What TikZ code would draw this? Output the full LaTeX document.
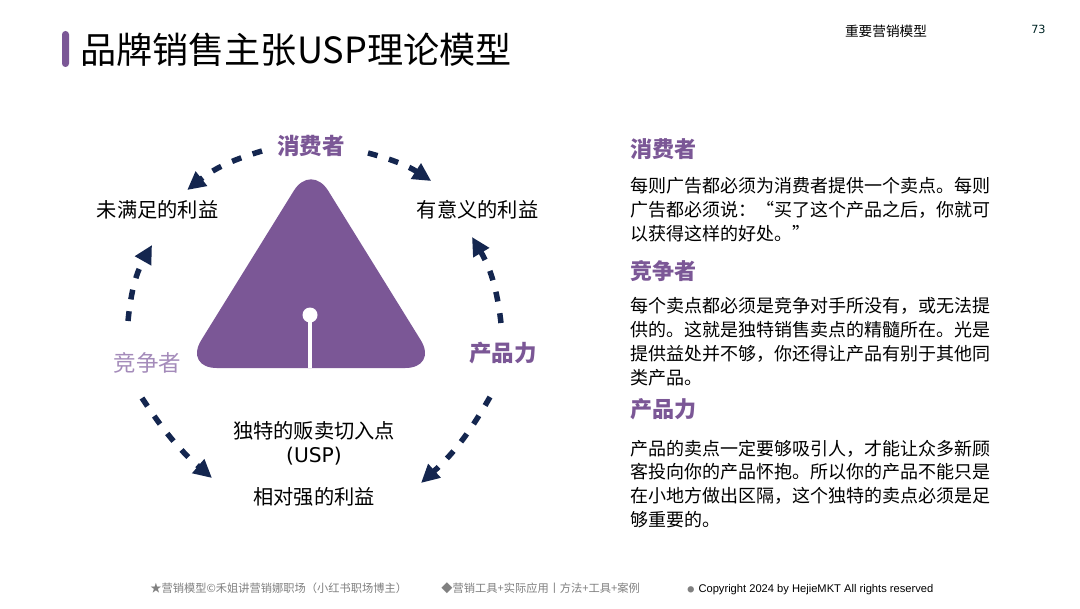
\documentclass[tikz,border=0pt]{standalone}
\usepackage{fontspec}
\setmainfont{Noto Sans CJK SC}
\newfontfamily\latinfont{Liberation Sans}
\newfontfamily\numfont{DejaVu Sans}
\usetikzlibrary{arrows.meta}
\definecolor{brandpurple}{HTML}{7B5796}
\definecolor{softpurple}{HTML}{A48BBA}
\definecolor{flownavy}{HTML}{14264F}
\definecolor{footgray}{HTML}{808080}

\begin{document}
\begin{tikzpicture}[
	label/.style = { inner sep=0pt, font=\fontsize{14.4}{17}\selectfont, align=center },
	pillar/.style = { inner sep=0pt, font=\fontsize{16}{19}\selectfont\bfseries, text=brandpurple },
	heading/.style = { pillar, anchor=west, font=\fontsize{15.7}{19}\selectfont\bfseries },
	para/.style = { inner sep=0pt, anchor=west, align=left, font=\fontsize{12.8}{16.95}\selectfont },
	foot/.style = { inner sep=0pt, anchor=west, text=footgray, font=\fontsize{8}{9}\selectfont },
	flow/.style = { draw=flownavy, line width=3.9pt, dash pattern=on 7pt off 8.5pt, -{Triangle[length=13pt,width=12.5pt]} }]

  \useasboundingbox (0,0) rectangle (27,15.2);
  \fill[white] (0,0) rectangle (27,15.2);

  \fill[brandpurple, rounded corners=2.4pt] (1.55,13.525) rectangle (1.725,14.425);
  \node[inner sep=0pt, anchor=west, font=\fontsize{25.7}{30}\selectfont] (title) at (2,13.95) {品牌销售主张USP理论模型};
  \node[inner sep=0pt, font=\fontsize{9.7}{12}\selectfont] (section) at (22.15,14.425) {重要营销模型};
  \node[inner sep=0pt, text=black!70!teal, font=\numfont\fontsize{8}{9}\selectfont] (pageno) at (25.96,14.475) {73};

  \fill[brandpurple, rounded corners=0.82cm] (7.775,11.125) -- (4.6,6) -- (10.95,6) -- cycle;
  \node[circle, fill=white, inner sep=0pt, minimum size=0.375cm] (dot) at (7.75,7.325) {};
  \draw[white, line width=3.2pt] (dot.center) -- (7.75,6);

  \node[pillar] (consumer) at (7.775,11.55) {消费者};
  \node[label] (unmet) at (3.94,9.95) {未满足的利益};
  \node[label] (meaning) at (11.94,9.95) {有意义的利益};
  \node[pillar, text=softpurple, font=\fontsize{16}{19}\selectfont] (rival) at (3.69,6.125) {竞争者};
  \node[pillar] (product) at (12.575,6.375) {产品力};
  \node[label] (unique) at (7.85,4.125) {独特的贩卖切入点\\{\numfont (USP)}};
  \node[label] (strong) at (7.85,2.775) {相对强的利益};

  \draw[flow] ([shift={(-1.225,-0.125)}]consumer.center) to[bend right=11] ([shift={(0.74,0.5)}]unmet.center);
  \draw[flow] ([shift={(1.425,-0.175)}]consumer.center) to[bend left=9] ([shift={(-1.16,0.725)}]meaning.center);
  \draw[flow] ([shift={(-0.49,1.05)}]rival.center) to[bend left=12] ([shift={(-0.14,-0.875)}]unmet.center);
  \draw[flow] ([shift={(-0.05,0.75)}]product.center) to[bend right=12] ([shift={(-0.14,-0.675)}]meaning.center);
  \draw[flow] ([shift={(-0.14,-0.875)}]rival.center) to[bend right=8] ([shift={(-2.55,0.475)}]strong.center);
  \draw[flow] ([shift={(-0.325,-1.1)}]product.center) to[bend left=9] ([shift={(2.675,0.35)}]strong.center);

  \node[heading] (head1) at (15.75,11.475) {消费者};
  \node[para] (text1) at (15.75,9.9625) {每则广告都必须为消费者提供一个卖点。每则\\广告都必须说：“买了这个产品之后，你就可\\以获得这样的好处。”};
  \node[heading] (head2) at (15.75,8.425) {竞争者};
  \node[para] (text2) at (15.75,6.6625) {每个卖点都必须是竞争对手所没有，或无法提\\供的。这就是独特销售卖点的精髓所在。光是\\提供益处并不够，你还得让产品有别于其他同\\类产品。};
  \node[heading] (head3) at (15.75,4.975) {产品力};
  \node[para] (text3) at (15.75,3.1) {产品的卖点一定要够吸引人，才能让众多新顾\\客投向你的产品怀抱。所以你的产品不能只是\\在小地方做出区隔，这个独特的卖点必须是足\\够重要的。};

  \node[foot] (foot1) at (3.75,0.5) {★营销模型©禾姐讲营销娜职场（小红书职场博主）};
  \node[foot] (foot2) at (11.025,0.5) {◆营销工具+实际应用丨方法+工具+案例};
  \node[foot, text=black] (foot3) at (17.175,0.46) {\textcolor{footgray}{\fontsize{5}{6}\selectfont ●}\hspace{3pt}{\latinfont\fontsize{7.93}{9}\selectfont Copyright 2024 by HejieMKT All rights reserved}};
\end{tikzpicture}
\end{document}
